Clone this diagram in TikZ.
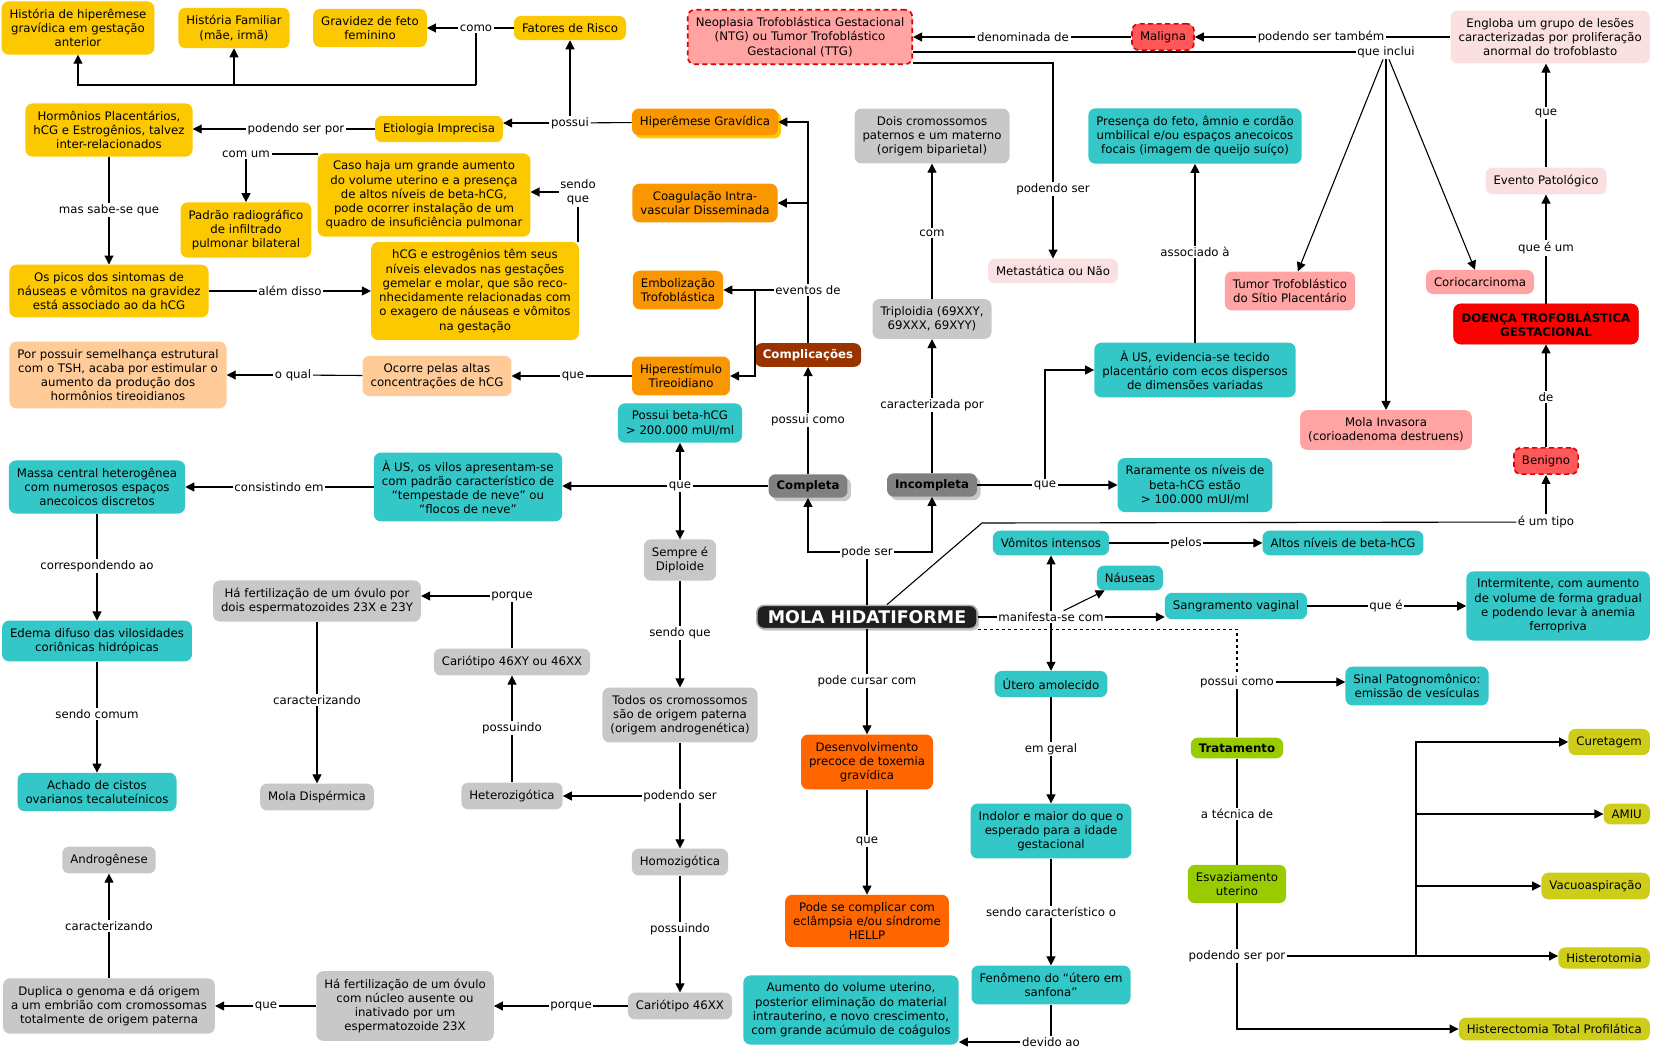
\documentclass[tikz,border=0pt]{standalone}
\usepackage{fontspec}
\setmainfont{DejaVu Sans}
\usepackage{tikz}
\usetikzlibrary{arrows.meta, positioning, shadows}

\definecolor{mapgold}{RGB}{252,200,0}
\definecolor{maporange}{RGB}{250,150,0}
\definecolor{mapbrown}{RGB}{153,51,0}
\definecolor{mappeach}{RGB}{255,204,153}
\definecolor{mapcyan}{RGB}{51,199,199}
\definecolor{mapgrey}{RGB}{200,200,200}
\definecolor{mapdark}{RGB}{128,128,128}
\definecolor{mapflame}{RGB}{255,102,0}
\definecolor{mappink}{RGB}{255,163,163}
\definecolor{maprose}{RGB}{250,224,224}
\definecolor{mapsalmon}{RGB}{255,88,88}
\definecolor{mapdash}{RGB}{225,0,0}
\definecolor{mapalarm}{RGB}{255,0,0}
\definecolor{mapgreen}{RGB}{153,204,0}
\definecolor{mapolive}{RGB}{206,206,26}

\newcommand{\mapfont}{\fontsize{11.8}{14.3}\selectfont}

\tikzset{
  concept/.style={
    rectangle, rounded corners=7bp, align=center, font=\mapfont,
    inner xsep=8bp, inner ysep=7.5bp, text=black
  },
  goldbox/.style={concept, fill=mapgold},
  orangebox/.style={concept, fill=maporange},
  brownbox/.style={concept, fill=mapbrown, text=white, font=\mapfont\bfseries, inner ysep=6bp},
  peachbox/.style={concept, fill=mappeach},
  cyanbox/.style={concept, fill=mapcyan},
  greybox/.style={concept, fill=mapgrey},
  darkbox/.style={concept, fill=mapdark, font=\mapfont\bfseries, inner ysep=6bp,
    drop shadow={shadow xshift=3.5bp, shadow yshift=-3.5bp, fill=mapgrey, opacity=1}},
  flamebox/.style={concept, fill=mapflame},
  pinkbox/.style={concept, fill=mappink},
  rosebox/.style={concept, fill=maprose},
  dashedge/.style={draw=mapdash, dash pattern=on 5bp off 3.5bp, line width=1.6bp},
  riskbox/.style={concept, fill=mapsalmon, dashedge},
  alarmbox/.style={concept, fill=mapalarm, draw=mapalarm!80!black, font=\mapfont\bfseries},
  greenbox/.style={concept, fill=mapgreen},
  olivebox/.style={concept, fill=mapolive},
  molabox/.style={
    concept, fill=black!88, draw=black!30, line width=1.6bp, text=white,
    font=\fontsize{17.5}{20}\selectfont\bfseries, inner ysep=5bp, inner xsep=11bp,
    drop shadow={shadow xshift=2bp, shadow yshift=-2bp, fill=black!20, opacity=1}
  },
  phrase/.style={font=\mapfont, fill=white, inner sep=1.5bp, align=center},
  link/.style={line width=1.1bp, black},
  arrow/.style={link, -{Triangle[length=9bp, width=9bp]}}
}

\begin{document}
\begin{tikzpicture}[x=1bp, y=-1bp]
  \fill[white] (0,0) rectangle (1653,1050);
  \useasboundingbox (0,0) rectangle (1653,1050);

  % etiologia e fatores de risco
  \node[goldbox] (hist) at (78,28) {História de hiperêmese\\gravídica em gestação\\anterior};
  \node[goldbox] (fam) at (234,28) {História Familiar\\(mãe, irmã)};
  \node[goldbox] (feto) at (370,28) {Gravidez de feto\\feminino};
  \node[goldbox] (fatores) at (570,28) {Fatores de Risco};
  \node[goldbox] (horm) at (109,130) {Hormônios Placentários,\\hCG e Estrogênios, talvez\\inter-relacionados};
  \node[goldbox] (etio) at (439,129) {Etiologia Imprecisa};
  \node[orangebox, drop shadow={shadow xshift=3bp, shadow yshift=-3bp, fill=mapgold, opacity=1}]
    (hiperem) at (705,122) {Hiperêmese Gravídica};
  \node[goldbox] (caso) at (424,195) {Caso haja um grande aumento\\do volume uterino e a presença\\de altos níveis de beta-hCG,\\pode ocorrer instalação de um\\quadro de insuficiência pulmonar};
  \node[goldbox] (padrao) at (246,230) {Padrão radiográfico\\de infiltrado\\pulmonar bilateral};
  \node[goldbox] (picos) at (109,291) {Os picos dos sintomas de\\náuseas e vômitos na gravidez\\está associado ao da hCG};
  \node[goldbox] (hcg) at (475,291) {hCG e estrogênios têm seus\\níveis elevados nas gestações\\gemelar e molar, que são reco-\\nhecidamente relacionadas com\\o exagero de náuseas e vômitos\\na gestação};
  \node[peachbox] (tsh) at (118,375) {Por possuir semelhança estrutural\\com o TSH, acaba por estimular o\\aumento da produção dos\\hormônios tireoidianos};
  \node[peachbox] (ocorre) at (437,376) {Ocorre pelas altas\\concentrações de hCG};
  \node[orangebox] (hipert) at (681,376) {Hiperestímulo\\Tireoidiano};
  \node[orangebox] (coag) at (705,203) {Coagulação Intra-\\vascular Disseminada};
  \node[orangebox] (embol) at (678,290) {Embolização\\Trofoblástica};
  \node[brownbox] (compl) at (808,355) {Complicações};

  \node[phrase] (lcomo) at (476,28) {como};
  \node[phrase] (lpossui) at (570,123) {possui};
  \node[phrase] (lpodpor) at (296,129) {podendo ser por};
  \node[phrase] (lcomum) at (246,154) {com um};
  \node[phrase] (lsendoque1) at (578,192) {sendo\\que};
  \node[phrase] (lmassabe) at (109,210) {mas sabe-se que};
  \node[phrase] (lalem) at (290,291) {além disso};
  \node[phrase] (loqual) at (293,375) {o qual};
  \node[phrase] (lque1) at (573,376) {que};
  \node[phrase] (levt) at (808,290) {eventos de};
  \coordinate (jcomo) at (476,85);
  \coordinate (jevt) at (755,290);

  \draw[link] (fatores) -- (lcomo);
  \draw[arrow] (lcomo) -- (feto);
  \draw[link] (lcomo) -- (jcomo);
  \draw[arrow] (jcomo) -| (hist);
  \draw[arrow] (jcomo) -| (fam);
  \draw[link] (hiperem) -- (lpossui);
  \draw[arrow] (lpossui) -- (fatores);
  \draw[arrow] (lpossui) -- (lpossui -| etio.east);
  \draw[link] (etio) -- (lpodpor);
  \draw[arrow] (lpodpor) -- (lpodpor -| horm.east);
  \draw[link] (caso.west |- lcomum) -- (lcomum);
  \draw[arrow] (lcomum) -- (padrao);
  \draw[link] (lsendoque1 |- hcg.north) -- (lsendoque1);
  \draw[arrow] (lsendoque1) -- (lsendoque1 -| caso.east);
  \draw[link] (horm) -- (lmassabe);
  \draw[arrow] (lmassabe) -- (picos);
  \draw[link] (picos) -- (lalem);
  \draw[arrow] (lalem) -- (lalem -| hcg.west);
  \draw[link] (hipert) -- (lque1);
  \draw[arrow] (lque1) -- (ocorre);
  \draw[link] (ocorre) -- (loqual);
  \draw[arrow] (loqual) -- (loqual -| tsh.east);
  \draw[link] (compl) -- (levt);
  \draw[arrow] (levt) |- (hiperem);
  \draw[arrow] (levt) |- (coag);
  \draw[arrow] (levt) -- (embol);
  \draw[arrow] (jevt) |- (hipert);

  % mola completa
  \node[molabox] (mola) at (867,617) {MOLA HIDATIFORME};
  \node[darkbox] (completa) at (808,486) {Completa};
  \node[cyanbox] (beta200) at (680,423) {Possui beta-hCG\\> 200.000 mUI/ml};
  \node[cyanbox] (vilos) at (468,487) {À US, os vilos apresentam-se\\com padrão característico de\\“tempestade de neve” ou\\“flocos de neve”};
  \node[cyanbox] (massa) at (97,487) {Massa central heterogênea\\com numerosos espaços\\anecoicos discretos};
  \node[cyanbox] (edema) at (97,641) {Edema difuso das vilosidades\\coriônicas hidrópicas};
  \node[cyanbox] (achado) at (97,792) {Achado de cistos\\ovarianos tecaluteínicos};
  \node[greybox] (fert1) at (317,601) {Há fertilização de um óvulo por\\dois espermatozoides 23X e 23Y};
  \node[greybox] (disperm) at (317,797) {Mola Dispérmica};
  \node[greybox] (cario1) at (512,662) {Cariótipo 46XY ou 46XX};
  \node[greybox] (hetero) at (512,796) {Heterozigótica};
  \node[greybox] (diploide) at (680,560) {Sempre é\\Diploide};
  \node[greybox] (todos) at (680,715) {Todos os cromossomos\\são de origem paterna\\(origem androgenética)};
  \node[greybox] (homo) at (680,862) {Homozigótica};
  \node[greybox] (cario2) at (680,1006) {Cariótipo 46XX};
  \node[greybox] (fert2) at (405,1006) {Há fertilização de um óvulo\\com núcleo ausente ou\\inativado por um\\espermatozoide 23X};
  \node[greybox] (duplica) at (109,1006) {Duplica o genoma e dá origem\\a um embrião com cromossomas\\totalmente de origem paterna};
  \node[greybox] (andro) at (109,860) {Androgênese};

  \node[phrase] (lpodeser) at (867,552) {pode ser};
  \node[phrase] (lposcomo) at (808,420) {possui como};
  \node[phrase] (lque2) at (680,486) {que};
  \node[phrase] (lconsist) at (279,487) {consistindo em};
  \node[phrase] (lcorresp) at (97,566) {correspondendo ao};
  \node[phrase] (lsendocomum) at (97,714) {sendo comum};
  \node[phrase] (lsendoque2) at (680,633) {sendo que};
  \node[phrase] (lpodser) at (680,796) {podendo ser};
  \node[phrase] (lpossuindo1) at (512,728) {possuindo};
  \node[phrase] (lporque1) at (512,596) {porque};
  \node[phrase] (lcaract1) at (317,700) {caracterizando};
  \node[phrase] (lpossuindo2) at (680,929) {possuindo};
  \node[phrase] (lporque2) at (571,1006) {porque};
  \node[phrase] (lque3) at (266,1006) {que};
  \node[phrase] (lcaract2) at (109,926) {caracterizando};

  \draw[link] (mola) -- (lpodeser);
  \draw[arrow] (lpodeser) -| (completa);
  \draw[link] (completa) -- (lposcomo);
  \draw[arrow] (lposcomo) -- (compl);
  \draw[link] (completa) -- (lque2);
  \draw[arrow] (lque2) -- (beta200);
  \draw[arrow] (lque2) -- (lque2 -| vilos.east);
  \draw[arrow] (lque2) -- (diploide);
  \draw[link] (vilos) -- (lconsist);
  \draw[arrow] (lconsist) -- (lconsist -| massa.east);
  \draw[link] (massa) -- (lcorresp);
  \draw[arrow] (lcorresp) -- (edema);
  \draw[link] (edema) -- (lsendocomum);
  \draw[arrow] (lsendocomum) -- (achado);
  \draw[link] (diploide) -- (lsendoque2);
  \draw[arrow] (lsendoque2) -- (todos);
  \draw[link] (todos) -- (lpodser);
  \draw[arrow] (lpodser) -- (lpodser -| hetero.east);
  \draw[arrow] (lpodser) -- (homo);
  \draw[link] (hetero) -- (lpossuindo1);
  \draw[arrow] (lpossuindo1) -- (cario1);
  \draw[link] (cario1) -- (lporque1);
  \draw[arrow] (lporque1) -- (lporque1 -| fert1.east);
  \draw[link] (fert1) -- (lcaract1);
  \draw[arrow] (lcaract1) -- (disperm);
  \draw[link] (homo) -- (lpossuindo2);
  \draw[arrow] (lpossuindo2) -- (cario2);
  \draw[link] (cario2) -- (lporque2);
  \draw[arrow] (lporque2) -- (fert2);
  \draw[link] (fert2) -- (lque3);
  \draw[arrow] (lque3) -- (duplica);
  \draw[link] (duplica) -- (lcaract2);
  \draw[arrow] (lcaract2) -- (andro);

  % mola incompleta
  \node[darkbox] (incompleta) at (932,485) {Incompleta};
  \node[greybox] (triplo) at (932,319) {Triploidia (69XXY,\\69XXX, 69XYY)};
  \node[greybox] (dois) at (932,136) {Dois cromossomos\\paternos e um materno\\(origem biparietal)};
  \node[cyanbox] (rara) at (1195,485) {Raramente os níveis de\\beta-hCG estão\\> 100.000 mUI/ml};
  \node[cyanbox] (usinc) at (1195,370) {À US, evidencia-se tecido\\placentário com ecos dispersos\\de dimensões variadas};
  \node[cyanbox] (presenca) at (1195,136) {Presença do feto, âmnio e cordão\\umbilical e/ou espaços anecoicos\\focais (imagem de queijo suíço)};

  \node[phrase] (lcaractpor) at (932,405) {caracterizada por};
  \node[phrase] (lcom) at (932,233) {com};
  \node[phrase] (lque4) at (1045,485) {que};
  \node[phrase] (lassoc) at (1195,252) {associado à};

  \draw[arrow] (lpodeser) -| (incompleta);
  \draw[link] (incompleta) -- (lcaractpor);
  \draw[arrow] (lcaractpor) -- (triplo);
  \draw[link] (triplo) -- (lcom);
  \draw[arrow] (lcom) -- (dois);
  \draw[link] (incompleta) -- (lque4);
  \draw[arrow] (lque4) -- (rara);
  \draw[arrow] (lque4) |- (usinc);
  \draw[link] (usinc) -- (lassoc);
  \draw[arrow] (lassoc) -- (presenca);

  % doenca trofoblastica
  \node[pinkbox, dashedge] (ntg) at (800,37) {Neoplasia Trofoblástica Gestacional\\(NTG) ou Tumor Trofoblástico\\Gestacional (TTG)};
  \node[riskbox] (maligna) at (1163,37) {Maligna};
  \node[rosebox, anchor=east] (engloba) at (1650,37) {Engloba um grupo de lesões\\caracterizadas por proliferação\\anormal do trofoblasto};
  \node[rosebox] (metast) at (1053,271) {Metastática ou Não};
  \node[pinkbox] (tumor) at (1290,291) {Tumor Trofoblástico\\do Sítio Placentário};
  \node[pinkbox] (corio) at (1480,282) {Coriocarcinoma};
  \node[pinkbox] (invasora) at (1386,430) {Mola Invasora\\(corioadenoma destruens)};
  \node[rosebox] (evento) at (1546,181) {Evento Patológico};
  \node[alarmbox] (dtg) at (1546,324) {DOENÇA TROFOBLÁSTICA\\GESTACIONAL};
  \node[riskbox] (benigno) at (1546,461) {Benigno};

  \node[phrase] (ldenom) at (1023,37) {denominada de};
  \node[phrase] (lpodtambem) at (1321,37) {podendo ser também};
  \node[phrase] (lqueinclui) at (1386,52) {que inclui};
  \node[phrase] (lpodser2) at (1053,189) {podendo ser};
  \node[phrase] (lque5) at (1546,113) {que};
  \node[phrase] (lqueeum) at (1546,248) {que é um};
  \node[phrase] (lde) at (1546,397) {de};
  \node[phrase] (leumtipo) at (1546,522) {é um tipo};
  \coordinate (jtipo) at (982,523);

  \draw[link] (maligna) -- (ldenom);
  \draw[arrow] (ldenom) -- (ntg);
  \draw[link] (engloba) -- (lpodtambem);
  \draw[arrow] (lpodtambem) -- (maligna);
  \draw[link] (lqueinclui -| ntg.east) -- (lqueinclui);
  \draw[arrow] (lqueinclui) -- (tumor);
  \draw[arrow] (lqueinclui) -- (invasora);
  \draw[arrow] (lqueinclui) -- (corio);
  \draw[link] ([yshift=-26bp]ntg.east) -| (lpodser2);
  \draw[arrow] (lpodser2) -- (metast);
  \draw[link] (evento) -- (lque5);
  \draw[arrow] (lque5) -- (lque5 |- engloba.south);
  \draw[link] (dtg) -- (lqueeum);
  \draw[arrow] (lqueeum) -- (evento);
  \draw[link] (benigno) -- (lde);
  \draw[arrow] (lde) -- (dtg);
  \draw[link] ([xshift=20bp]mola.north) -- (jtipo) -- (leumtipo);
  \draw[arrow] (leumtipo) -- (benigno);

  % manifestacoes
  \node[cyanbox] (vomitos) at (1051,543) {Vômitos intensos};
  \node[cyanbox] (altos) at (1343,543) {Altos níveis de beta-hCG};
  \node[cyanbox] (nauseas) at (1130,578) {Náuseas};
  \node[cyanbox] (sang) at (1236,606) {Sangramento vaginal};
  \node[cyanbox, anchor=east] (interm) at (1650,606) {Intermitente, com aumento\\de volume de forma gradual\\e podendo levar à anemia\\ferropriva};
  \node[cyanbox] (utero) at (1051,684) {Útero amolecido};
  \node[cyanbox] (indolor) at (1051,831) {Indolor e maior do que o\\esperado para a idade\\gestacional};
  \node[cyanbox] (sanfona) at (1051,985) {Fenômeno do “útero em\\sanfona”};
  \node[cyanbox] (aumento) at (851,1010) {Aumento do volume uterino,\\posterior eliminação do material\\intrauterino, e novo crescimento,\\com grande acúmulo de coágulos};
  \node[flamebox] (desenv) at (867,762) {Desenvolvimento\\precoce de toxemia\\gravídica};
  \node[flamebox] (complica) at (867,921) {Pode se complicar com\\eclâmpsia e/ou síndrome\\HELLP};

  \node[phrase] (lmanif) at (1051,617) {manifesta-se com};
  \node[phrase] (lpelos) at (1186,543) {pelos};
  \node[phrase] (lquee) at (1386,606) {que é};
  \node[phrase] (lemgeral) at (1051,749) {em geral};
  \node[phrase] (lsendocar) at (1051,912) {sendo característico o};
  \node[phrase] (ldevido) at (1051,1042) {devido ao};
  \node[phrase] (lcursar) at (867,681) {pode cursar com};
  \node[phrase] (lque6) at (867,841) {que};

  \draw[link] (mola) -- (lmanif);
  \draw[arrow] (lmanif) -- (lmanif -| sang.west);
  \draw[arrow] (lmanif) -- (nauseas);
  \draw[arrow] (lmanif) -- (vomitos);
  \draw[arrow] (lmanif) -- (utero);
  \draw[link] (vomitos) -- (lpelos);
  \draw[arrow] (lpelos) -- (altos);
  \draw[link] (sang) -- (lquee);
  \draw[arrow] (lquee) -- (lquee -| interm.west);
  \draw[link] (utero) -- (lemgeral);
  \draw[arrow] (lemgeral) -- (indolor);
  \draw[link] (indolor) -- (lsendocar);
  \draw[arrow] (lsendocar) -- (sanfona);
  \draw[link] (sanfona) -- (ldevido);
  \draw[arrow] (ldevido) -- (ldevido -| aumento.east);
  \draw[link] (mola) -- (lcursar);
  \draw[arrow] (lcursar) -- (desenv);
  \draw[link] (desenv) -- (lque6);
  \draw[arrow] (lque6) -- (complica);

  % tratamento
  \node[cyanbox] (sinal) at (1417,686) {Sinal Patognomônico:\\emissão de vesículas};
  \node[greenbox, font=\mapfont\bfseries, inner ysep=6bp] (trat) at (1237,748) {Tratamento};
  \node[greenbox] (esvaz) at (1237,884) {Esvaziamento\\uterino};
  \node[olivebox, anchor=east] (cur) at (1650,742) {Curetagem};
  \node[olivebox, anchor=east, inner ysep=6bp] (amiu) at (1650,814) {AMIU};
  \node[olivebox, anchor=east] (vacuo) at (1650,886) {Vacuoaspiração};
  \node[olivebox, anchor=east, inner ysep=6bp] (histerot) at (1650,958) {Histerotomia};
  \node[olivebox, anchor=east, inner ysep=6.5bp] (histerec) at (1650,1029) {Histerectomia Total Profilática};

  \node[phrase] (lposcomo2) at (1237,682) {possui como};
  \node[phrase] (ltecnica) at (1237,814) {a técnica de};
  \node[phrase] (lpodpor2) at (1237,956) {podendo ser por};
  \coordinate (jpod) at (1416,956);

  \draw[link, dashed] (mola.south east) -| (lposcomo2);
  \draw[arrow] (lposcomo2) -- (lposcomo2 -| sinal.west);
  \draw[link] (lposcomo2) -- (trat);
  \draw[link] (trat) -- (ltecnica);
  \draw[link] (ltecnica) -- (esvaz);
  \draw[link] (esvaz) -- (lpodpor2);
  \draw[arrow] (lpodpor2) -- (lpodpor2 -| histerot.west);
  \draw[arrow] (jpod) |- (cur);
  \draw[arrow] (jpod) |- (amiu);
  \draw[arrow] (jpod) |- (vacuo);
  \draw[arrow] (lpodpor2) |- (histerec);
\end{tikzpicture}
\end{document}
